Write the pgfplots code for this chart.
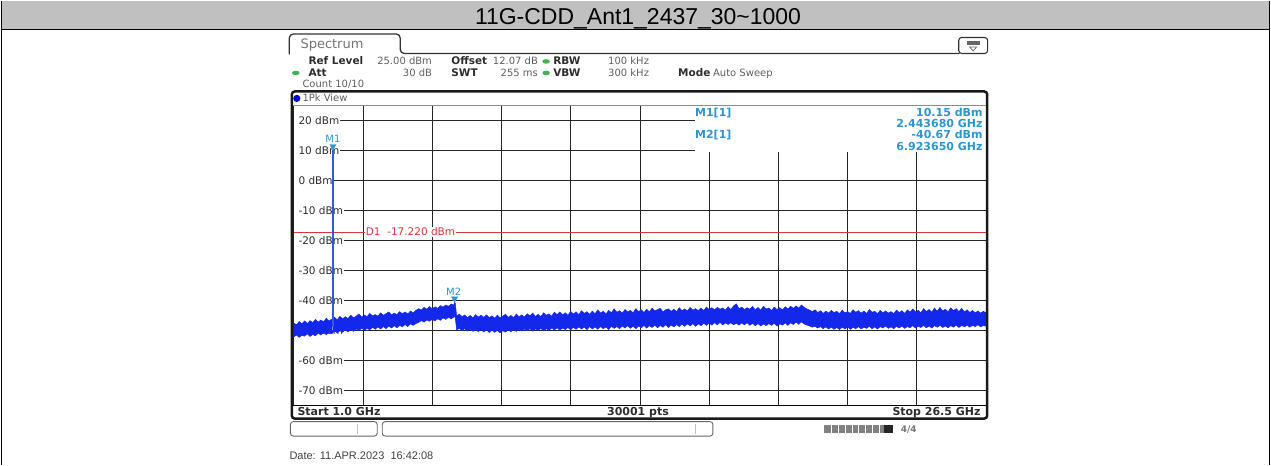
\documentclass[border=0pt]{standalone}
\usepackage{fontspec}
\setmainfont{DejaVu Sans}
\newfontfamily\arial{Liberation Sans}
\usepackage{pgfplots}
\pgfplotsset{compat=1.18}
\usepackage{pgfplotstable}
\usepgfplotslibrary{fillbetween}
\definecolor{traceblue}{RGB}{20,40,235}
\definecolor{carrier}{RGB}{50,85,235}
\definecolor{mkblue}{RGB}{45,150,205}
\definecolor{dlred}{RGB}{215,55,55}
\definecolor{hdrgray}{RGB}{192,192,192}
\definecolor{ledgreen}{RGB}{70,175,85}
\definecolor{valgray}{RGB}{95,95,95}
\definecolor{lblgray}{RGB}{45,45,45}

\pgfplotstableread{
x hi lo
1.0 -47.6 -52.3
1.1 -48.2 -51.6
1.2 -47.1 -52.4
1.3 -47.9 -51.7
1.4 -46.9 -52.0
1.5 -47.8 -51.2
1.6 -46.8 -52.1
1.7 -47.5 -51.4
1.8 -46.4 -51.9
1.9 -47.3 -51.0
2.0 -46.6 -51.6
2.1 -47.2 -50.8
2.2 -46.0 -51.5
2.3 -46.9 -50.6
2.4 -46.3 -51.2
2.5 -45.7 -50.3
2.6 -46.5 -50.9
2.7 -45.4 -50.2
2.8 -46.2 -50.7
2.9 -45.5 -49.9
3.0 -46.1 -50.6
3.1 -45.0 -49.8
3.2 -45.9 -50.4
3.3 -45.3 -49.6
3.4 -44.6 -50.2
3.5 -45.6 -49.3
3.6 -44.9 -50.1
3.7 -45.5 -49.4
3.8 -44.4 -49.9
3.9 -45.2 -49.0
4.0 -44.8 -49.7
4.1 -45.3 -48.9
4.2 -44.2 -49.6
4.3 -45.0 -48.8
4.4 -44.5 -49.5
4.5 -43.9 -48.6
4.6 -44.9 -49.3
4.7 -44.3 -48.5
4.8 -44.8 -49.2
4.9 -43.8 -48.4
5.0 -44.5 -48.9
5.1 -43.9 -48.1
5.2 -44.6 -48.8
5.3 -43.6 -47.9
5.4 -44.2 -48.4
5.5 -43.4 -47.8
5.6 -42.8 -47.4
5.7 -43.3 -46.8
5.8 -42.4 -47.3
5.9 -43.0 -46.6
6.0 -42.1 -47.0
6.1 -42.9 -46.4
6.2 -42.2 -46.9
6.3 -42.7 -46.2
6.4 -41.8 -46.7
6.5 -42.3 -45.9
6.6 -41.6 -46.4
6.7 -42.0 -45.7
6.8 -41.3 -46.2
6.9 -41.6 -45.6
6.92 -40.67 -45.4
6.95 -41.0 -45.8
7.0 -45.2 -49.9
7.1 -44.6 -49.4
7.2 -45.5 -50.1
7.3 -44.9 -49.5
7.4 -45.8 -50.3
7.5 -45.1 -49.6
7.6 -45.9 -50.4
7.7 -44.8 -49.7
7.8 -45.6 -50.5
7.9 -45.0 -49.8
8.0 -45.7 -50.6
8.1 -44.9 -49.9
8.2 -45.8 -50.8
8.3 -45.2 -50.0
8.4 -46.0 -50.7
8.5 -45.0 -50.1
8.6 -45.9 -50.9
8.7 -45.3 -50.2
8.8 -44.7 -50.6
8.9 -45.7 -49.9
9.0 -45.1 -50.5
9.1 -45.8 -49.8
9.2 -44.6 -50.4
9.3 -45.5 -49.7
9.4 -44.9 -50.3
9.5 -45.6 -49.6
9.6 -44.5 -50.2
9.7 -45.2 -49.5
9.8 -44.3 -50.3
9.9 -45.4 -49.6
10.0 -44.7 -50.1
10.1 -45.5 -49.4
10.2 -44.2 -50.2
10.3 -45.0 -49.5
10.4 -44.6 -50.0
10.5 -45.3 -49.3
10.6 -44.0 -49.9
10.7 -44.8 -49.2
10.8 -43.9 -50.0
10.9 -44.9 -49.3
11.0 -44.2 -49.8
11.1 -45.0 -49.1
11.2 -43.7 -49.9
11.3 -44.6 -49.0
11.4 -43.9 -49.7
11.5 -44.8 -48.9
11.6 -43.5 -49.6
11.7 -44.4 -49.0
11.8 -43.8 -49.8
11.9 -44.7 -48.8
12.0 -43.6 -49.6
12.1 -44.5 -48.9
12.2 -43.2 -49.7
12.3 -44.3 -48.8
12.4 -43.7 -49.5
12.5 -44.6 -48.9
12.6 -43.4 -49.8
12.7 -44.2 -48.7
12.8 -42.9 -49.4
12.9 -44.0 -48.8
13.0 -43.5 -49.5
13.1 -44.3 -48.6
13.2 -43.1 -49.3
13.3 -43.9 -48.5
13.4 -43.4 -49.4
13.5 -44.2 -48.7
13.6 -42.8 -49.5
13.7 -43.8 -48.6
13.8 -43.2 -49.2
13.9 -44.1 -48.4
14.0 -43.0 -49.3
14.1 -43.9 -48.5
14.2 -42.6 -49.1
14.3 -43.6 -48.3
14.4 -43.1 -49.2
14.5 -42.7 -48.4
14.6 -43.9 -49.0
14.7 -43.2 -48.2
14.8 -42.9 -49.1
14.9 -43.7 -48.3
15.0 -43.0 -48.9
15.1 -43.8 -48.1
15.2 -42.5 -48.8
15.3 -43.5 -48.0
15.4 -42.9 -48.7
15.5 -43.6 -47.9
15.6 -42.4 -48.6
15.7 -43.3 -47.8
15.8 -42.8 -48.7
15.9 -43.5 -47.9
16.0 -42.6 -48.5
16.1 -43.4 -47.7
16.2 -42.3 -48.4
16.3 -43.1 -47.6
16.4 -42.5 -48.3
16.5 -43.2 -47.5
16.6 -42.4 -48.2
16.7 -43.0 -47.4
16.8 -42.6 -48.3
16.9 -43.3 -47.6
17.0 -42.2 -48.1
17.1 -43.1 -47.5
17.2 -41.9 -48.2
17.3 -41.2 -47.7
17.4 -42.8 -48.3
17.5 -42.3 -47.6
17.6 -43.1 -48.2
17.7 -42.5 -47.5
17.8 -43.0 -48.4
17.9 -42.1 -47.7
18.0 -43.2 -48.5
18.1 -42.4 -47.8
18.2 -43.3 -48.6
18.3 -42.0 -47.9
18.4 -42.9 -48.5
18.5 -42.6 -47.8
18.6 -43.4 -48.4
18.7 -42.3 -47.7
18.8 -43.1 -48.6
18.9 -42.5 -47.9
19.0 -43.2 -48.3
19.1 -42.2 -47.6
19.2 -42.9 -48.4
19.3 -42.0 -47.5
19.4 -42.7 -48.1
19.5 -41.9 -47.3
19.6 -42.6 -48.0
19.7 -41.6 -47.2
19.8 -42.4 -47.9
19.9 -42.9 -48.3
20.0 -43.3 -48.6
20.1 -43.8 -49.0
20.2 -43.2 -48.7
20.3 -44.1 -49.3
20.4 -43.5 -48.8
20.5 -44.4 -49.5
20.6 -43.6 -48.9
20.7 -44.3 -49.6
20.8 -43.4 -49.0
20.9 -44.1 -49.7
21.0 -43.7 -49.1
21.1 -44.5 -49.8
21.2 -43.3 -49.0
21.3 -44.2 -49.6
21.4 -43.8 -48.9
21.5 -44.4 -49.7
21.6 -43.2 -49.1
21.7 -44.0 -49.5
21.8 -43.5 -48.8
21.9 -44.3 -49.6
22.0 -43.6 -49.0
22.1 -44.4 -49.4
22.2 -43.1 -48.7
22.3 -44.0 -49.5
22.4 -43.7 -48.9
22.5 -44.5 -49.6
22.6 -43.4 -48.8
22.7 -44.2 -49.3
22.8 -43.6 -48.6
22.9 -44.3 -49.4
23.0 -43.8 -48.9
23.1 -44.5 -49.5
23.2 -43.3 -48.7
23.3 -44.1 -49.3
23.4 -43.5 -48.6
23.5 -44.4 -49.4
23.6 -43.2 -48.8
23.7 -44.0 -49.2
23.8 -42.9 -48.5
23.9 -43.9 -49.3
24.0 -43.4 -48.7
24.1 -44.2 -49.1
24.2 -42.8 -48.4
24.3 -43.8 -49.2
24.4 -43.1 -48.6
24.5 -44.0 -49.3
24.6 -42.6 -48.5
24.7 -43.7 -49.0
24.8 -42.4 -48.4
24.9 -43.6 -49.1
25.0 -43.0 -48.6
25.1 -43.9 -49.2
25.2 -42.5 -48.5
25.3 -43.5 -49.0
25.4 -42.8 -48.3
25.5 -43.8 -49.1
25.6 -42.7 -48.4
25.7 -43.9 -48.9
25.8 -43.2 -48.3
25.9 -44.1 -49.0
26.0 -43.4 -48.4
26.1 -44.2 -48.8
26.2 -43.6 -48.2
26.3 -44.3 -48.9
26.4 -43.7 -48.4
26.5 -44.2 -48.7
}\noise

\newcommand{\ui}{\fontsize{10}{12}\selectfont}
\newcommand{\uib}{\fontsize{10.5}{12}\selectfont\bfseries}
\newcommand{\mk}{\fontsize{11}{13}\selectfont\bfseries}

\begin{document}
\begin{tikzpicture}
\path (0,0) rectangle (1271pt,-465pt);
\begin{scope}[x=1pt,y=-1pt]
% table header
\fill[hdrgray] (0,0) rectangle (1271,28.5);
\draw[black, line width=1.2pt] (0,29) -- (1271,29);
\draw[black, line width=1pt] (0.5,0) -- (0.5,465);
\draw[black, line width=1pt] (1270.5,0) -- (1270.5,465);
\node[font=\arial\fontsize{23}{26}\selectfont, anchor=base, inner sep=0pt] at (638,24) {11G-CDD\_Ant1\_2437\_30\textasciitilde1000};
% spectrum tab
\draw[black!80, line width=1.3pt, rounded corners=4pt] (289,54) -- (289,33.5) -- (400,33.5) -- (400,53) -- (960,53);
\node[font=\fontsize{13}{15}\selectfont, text=black!55, anchor=base west, inner sep=0pt] at (300,48.5) {Spectrum};
\draw[black!80, line width=1.1pt, rounded corners=3pt] (959,37) rectangle (988,53);
\fill[black!60] (967,40.5) rectangle (980,44.5);
\draw[black!60, line width=0.7pt] (970,46.5) -- (977,46.5) -- (973.5,50.5) -- cycle;
% header parameters
\node[font=\uib, anchor=base west, inner sep=0pt, text=lblgray] at (308,64.5) {Ref Level};
\node[font=\ui, anchor=base east, inner sep=0pt, text=valgray] at (432,64.5) {25.00 dBm};
\node[font=\uib, anchor=base west, inner sep=0pt, text=lblgray] at (451,64.5) {Offset};
\node[font=\ui, anchor=base east, inner sep=0pt, text=valgray] at (538,64.5) {12.07 dB};
\fill[ledgreen] (546,61) ellipse (3.8pt and 2.3pt);
\node[font=\uib, anchor=base west, inner sep=0pt, text=lblgray] at (553,64.5) {RBW};
\node[font=\ui, anchor=base west, inner sep=0pt, text=valgray] at (608,64.5) {100 kHz};
\fill[ledgreen] (295.5,72.5) ellipse (3.8pt and 2.3pt);
\node[font=\uib, anchor=base west, inner sep=0pt, text=lblgray] at (308,76) {Att};
\node[font=\ui, anchor=base east, inner sep=0pt, text=valgray] at (432,76) {30 dB};
\node[font=\uib, anchor=base west, inner sep=0pt, text=lblgray] at (451,76) {SWT};
\node[font=\ui, anchor=base east, inner sep=0pt, text=valgray] at (538,76) {255 ms};
\fill[ledgreen] (546,72.5) ellipse (3.8pt and 2.3pt);
\node[font=\uib, anchor=base west, inner sep=0pt, text=lblgray] at (553,76) {VBW};
\node[font=\ui, anchor=base west, inner sep=0pt, text=valgray] at (608,76) {300 kHz};
\node[font=\uib, anchor=base west, inner sep=0pt, text=lblgray] at (678,76) {Mode};
\node[font=\ui, anchor=base west, inner sep=0pt, text=valgray] at (713,76) {Auto Sweep};
\node[font=\ui, anchor=base west, inner sep=0pt, text=valgray] at (302,87.5) {Count 10/10};
% 1Pk View bar
\fill[blue!85!black] (296.5,98) circle (3.6pt);
\node[font=\ui, anchor=base west, inner sep=0pt, text=valgray] at (302,101.5) {1Pk View};
\end{scope}

\begin{axis}[at={(293.4pt,-405pt)}, anchor=south west, scale only axis,
  width=693pt, height=300pt, xmin=1, xmax=26.5, ymin=-75, ymax=25,
  axis line style={draw=none}, major tick length=0pt,
  xtick={1,3.55,6.1,8.65,11.2,13.75,16.3,18.85,21.4,23.95,26.5},
  ytick={-70,-60,-50,-40,-30,-20,-10,0,10,20},
  xticklabels={}, yticklabels={},
  grid=major, grid style={black!85, line width=0.7pt}, clip=false]
\fill[white] (axis cs:15.78,25) rectangle (axis cs:26.5,9.4);
\pgfplotsinvokeforeach{20,10,0,-10,-20,-30,-40,-50,-60,-70}{
  \node[font=\fontsize{10.5}{12}\selectfont, text=lblgray, fill=white, anchor=west, inner xsep=1.2pt, inner ysep=1pt, xshift=-0.4pt] at (axis cs:1.03,#1) {\hspace{3pt}#1 dBm};
}
\addplot[dlred, line width=0.6pt] coordinates {(1,-17.22) (26.5,-17.22)};
\node[font=\fontsize{10.5}{12}\selectfont, text=dlred, fill=white, anchor=west, inner xsep=0.8pt, inner ysep=0.5pt] at (axis cs:3.62,-17.22) {D1 \ -17.220 dBm};
\addplot[traceblue, line width=0.5pt, name path=hi] table[x=x, y=hi] {\noise};
\addplot[traceblue, line width=0.5pt, name path=lo] table[x=x, y=lo] {\noise};
\addplot[traceblue] fill between[of=hi and lo, on layer=main];
\addplot[traceblue!45, line width=1pt] coordinates {(2.41,-50) (2.41,-35.5)};
\addplot[carrier, line width=2.2pt] coordinates {(2.4437,-49) (2.4437,10.15)};
\addplot[only marks, mark=triangle*, mark size=3.6pt, mark options={rotate=180, fill=mkblue, draw=mkblue}] coordinates {(2.4437,11.35) (6.92365,-39.47)};
\node[font=\fontsize{10}{12}\selectfont, text=mkblue] at (axis cs:2.4437,13.7) {M1};
\node[font=\fontsize{10}{12}\selectfont, text=mkblue] at (axis cs:6.89,-37.2) {M2};
\end{axis}

\begin{scope}[x=1pt,y=-1pt]
% frame
\draw[black!90, line width=2.5pt, rounded corners=3pt] (291.5,91) rectangle (987.5,418.5);
\draw[black!45, line width=0.8pt] (292.5,105) -- (986.5,105);
\draw[black, line width=1.3pt] (292.5,405.5) -- (986.5,405.5);
% marker table
\node[font=\mk, text=mkblue, anchor=base west, inner sep=0pt] at (695,116) {M1[1]};
\node[font=\mk, text=mkblue, anchor=base west, inner sep=0pt] at (695,138.3) {M2[1]};
\node[font=\mk, text=mkblue, anchor=base east, inner sep=0pt] at (983,116) {10.15 dBm};
\node[font=\mk, text=mkblue, anchor=base east, inner sep=0pt] at (983,127.3) {2.443680 GHz};
\node[font=\mk, text=mkblue, anchor=base east, inner sep=0pt] at (983,138.3) {-40.67 dBm};
\node[font=\mk, text=mkblue, anchor=base east, inner sep=0pt] at (983,150) {6.923650 GHz};
% start / stop row
\node[font=\mk, text=lblgray, anchor=base west, inner sep=0pt] at (297,415.5) {Start 1.0 GHz};
\node[font=\mk, text=lblgray, anchor=base, inner sep=0pt] at (638,415.5) {30001 pts};
\node[font=\mk, text=lblgray, anchor=base east, inner sep=0pt] at (981,415.5) {Stop 26.5 GHz};
% status bar
\draw[black!60, line width=0.9pt, rounded corners=3pt] (290,421.5) rectangle (377,436);
\draw[black!25, line width=0.6pt] (357,424) -- (357,434);
\draw[black!60, line width=0.9pt, rounded corners=3pt] (382,421.5) rectangle (713,436);
\draw[black!25, line width=0.6pt] (695,424) -- (695,434);
\fill[black!50] (824,424.5) rectangle (884,432.5);
\foreach \s in {831,838,845,852,859,866,873,880} {\draw[white, line width=0.6pt] (\s,424.5) -- (\s,432.5);}
\fill[black!85] (884,424.5) rectangle (893,432.5);
\node[font=\fontsize{9}{10}\selectfont\bfseries, text=black!55, anchor=base west, inner sep=0pt] at (901,432) {4/4};
% date
\node[font=\arial\fontsize{11}{13}\selectfont, text=black!75, anchor=base west, inner sep=0pt] at (289,459) {Date: 11.APR.2023 \ 16:42:08};
\end{scope}
\end{tikzpicture}
\end{document}
